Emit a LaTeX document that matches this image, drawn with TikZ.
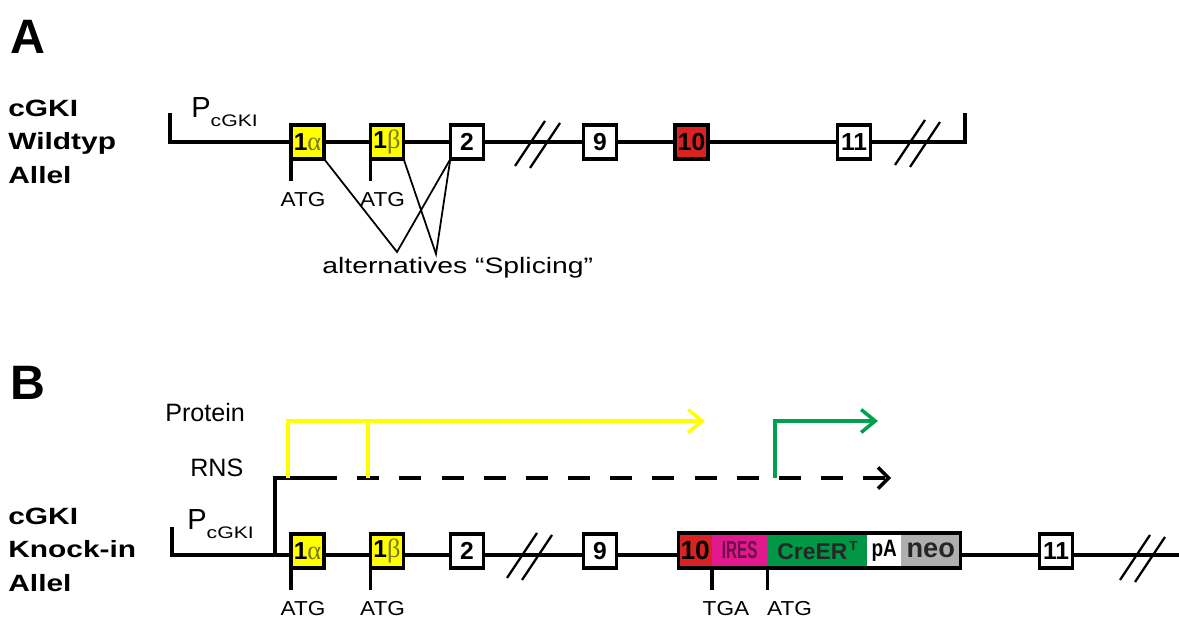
\documentclass[tikz,border=0pt]{standalone}
\usepackage{fontspec}
\setmainfont{Liberation Sans}
\newfontfamily\widefont[FakeStretch=1.27]{Liberation Sans}
\newfontfamily\atgfont[FakeStretch=1.12]{Liberation Sans}
\newfontfamily\condfont[FakeStretch=0.62]{Liberation Sans}
\newfontfamily\pafont[FakeStretch=0.8]{Liberation Sans}
\newfontfamily\greekfont{Liberation Serif}
\usetikzlibrary{positioning}
\usetikzlibrary{arrows.meta}
\definecolor{exonyellow}{RGB}{255,255,0}
\definecolor{greekolive}{RGB}{120,120,20}
\definecolor{exonred}{RGB}{215,35,35}
\definecolor{iresmag}{RGB}{225,25,140}
\definecolor{iresink}{RGB}{110,15,75}
\definecolor{cregreen}{RGB}{0,150,70}
\definecolor{neogray}{RGB}{175,175,175}
\definecolor{protyellow}{RGB}{255,255,0}
\definecolor{creline}{RGB}{0,160,80}
\tikzset{
	dna/.style={line width=1.9pt},
	tick/.style={line width=2pt},
	splice/.style={line width=1pt},
	slash/.style={line width=1.3pt},
	exon/.style={draw, line width=2pt, fill=white, inner sep=0pt, outer sep=0pt,
		minimum width=19pt, minimum height=19.5pt,
		font=\bfseries\fontsize{14}{14}\selectfont},
	yexon/.style={exon, fill=exonyellow},
	seg/.style={inner sep=0pt, outer sep=0pt, minimum height=20pt, anchor=west},
	atg/.style={font=\atgfont\fontsize{11.5}{11.5}\selectfont, inner sep=0pt, anchor=north, xshift=7pt, yshift=-5.2pt},
	lane/.style={font=\widefont\bfseries\fontsize{13.4}{18.9}\selectfont, align=left, inner sep=0pt, anchor=north west},
	panel/.style={font=\bfseries\fontsize{27.5}{27.5}\selectfont, inner sep=0pt, anchor=north west},
	plain/.style={font=\fontsize{14.3}{14.3}\selectfont, inner sep=0pt, anchor=base west},
	prom/.style={font=\fontsize{16.5}{16.5}\selectfont, inner sep=0pt, anchor=base west},
	yline/.style={line width=2pt, draw=protyellow},
	gline/.style={line width=2pt, draw=creline}
}
\newcommand{\exlab}[2]{1{\greekfont\mdseries\color{greekolive}\fontsize{15}{15}\selectfont #2}}
\newcommand{\brk}[2] % lower end of first slash, in px
{
	\draw[slash] (#1,#2) -- ++(30,-45);
	\draw[slash] (#1+15,#2+2) -- ++(30,-45);
}
\newcommand{\psub}{P\raisebox{-5.1pt}{\widefont\fontsize{9.5}{9.5}\selectfont cGKI}}
\begin{document}
\begin{tikzpicture}[x=0.02cm, y=-0.02cm]
	\useasboundingbox (0,0) rectangle (1179,617);
	% A: wildtype allel
	\node[panel] (lblA) at (10,20) {A};
	\node[lane] (laneA) at (8,100) {cGKI\\Wildtyp\\Allel};
	\node[prom] (promA) at (191,118) {\psub};
	\coordinate (aL) at (170,113);
	\coordinate (aR) at (965,113);
	\draw[dna] (aL) -- ++(0,29) -| (aR);
	\brk{515}{166}
	\brk{895}{165}
	\node[yexon] (a1a) at (307.5,142) {\exlab{1}{α}};
	\node[yexon] (a1b) at (387,142) {\exlab{1}{β}};
	\node[exon] (a2) at (467,142) {2};
	\node[exon] (a9) at (600,142) {9};
	\node[exon, fill=exonred] (a10) at (691.5,142) {10};
	\node[exon] (a11) at (854,142) {11};
	\draw[tick] (a1a.south west) -- ++(0,22) node[atg] (atgA1) {ATG};
	\draw[tick] (a1b.south west) -- ++(0,22) node[atg] (atgA2) {ATG};
	% alternative splicing
	\coordinate (sp1) at (397,252);
	\coordinate (sp2) at (436,254);
	\draw[splice] (a1a.south east) -- (sp1) -- (a2.south west);
	\draw[splice] (a1b.south east) -- (sp2) -- (a2.south west);
	\node[inner sep=0pt, anchor=base west, font=\widefont\fontsize{12.7}{12.7}\selectfont] (spltxt) at (322,274) {alternatives “Splicing”};

	% B: knock-in allel
	\node[panel] (lblB) at (10,366) {B};
	\node[lane] (laneB) at (8,508) {cGKI\\Knock-in\\Allel};
	\node[prom] (promB) at (187,530) {\psub};
	\node[plain] (prot) at (165,422) {Protein};
	\node[plain] (rns) at (190,477) {RNS};
	\coordinate (bL) at (172,527);
	\coordinate (bEnd) at (1179,555);
	\draw[dna] (bL) -- ++(0,28) -- (bEnd);
	\brk{507}{578}
	\brk{1120}{580}
	\node[yexon] (b1a) at (307.5,551) {\exlab{1}{α}};
	\node[yexon] (b1b) at (387,551) {\exlab{1}{β}};
	\node[exon] (b2) at (467,551) {2};
	\node[exon] (b9) at (600,551) {9};
	\node[seg, fill=exonred, minimum width=19pt, font=\bfseries\fontsize{15}{15}\selectfont] (b10) at (678.5,550.5) {10};
	\node[seg, fill=iresmag, minimum width=31.75pt, right=0pt of b10, font=\condfont\bfseries\fontsize{14}{14}\selectfont, text=iresink] (ires) {IRES};
	\node[seg, fill=cregreen, minimum width=56.7pt, right=0pt of ires, font=\bfseries\fontsize{13}{13}\selectfont, text=black!85] (cre) {CreER\raisebox{4.8pt}{\fontsize{7.5}{7.5}\selectfont\,T}};
	\node[seg, fill=white, minimum width=19.3pt, right=0pt of cre, font=\pafont\bfseries\fontsize{13.5}{13.5}\selectfont] (pa) {pA};
	\node[seg, fill=neogray, minimum width=33.7pt, right=0pt of pa, font=\bfseries\fontsize{15.5}{15.5}\selectfont, text=black!85] (neo) {neo};
	\draw[line width=2pt] (b10.north west) rectangle (neo.south east);
	\node[exon] (b11) at (1056,551) {11};
	\draw[tick] (b1a.south west) -- ++(0,22) node[atg] (atgB1) {ATG};
	\draw[tick] (b1b.south west) -- ++(0,22) node[atg] (atgB2) {ATG};
	\draw[tick] (b10.south east) -- ++(0,22) node[atg, xshift=1pt] (tga) {TGA};
	\draw[tick] (ires.south east) -- ++(0,22) node[atg, xshift=5.5pt] (atgB3) {ATG};
	% transcript and proteins
	\coordinate (tss) at (275,555);
	\coordinate (rnsA) at (337,478);
	\coordinate (rnsEnd) at (891,478);
	\draw[dna] (tss) |- (rnsA);
	\draw[dna, line width=2pt, dash pattern=on 12.5pt off 11.5pt, dash phase=12.5pt, -{Straight Barb[length=6pt, width=12pt]}] (rnsA) -- (rnsEnd);
	\coordinate (y1) at (288,478);
	\coordinate (y2) at (368,478);
	\coordinate (yEnd) at (705,421);
	\draw[yline, -{Straight Barb[length=8pt, width=13pt]}] (y1) |- (yEnd);
	\draw[yline] (y2) -- (y2 |- yEnd);
	\coordinate (g1) at (775,478);
	\coordinate (gEnd) at (878,421);
	\draw[gline, -{Straight Barb[length=8pt, width=13pt]}] (g1) |- (gEnd);
\end{tikzpicture}
\end{document}
